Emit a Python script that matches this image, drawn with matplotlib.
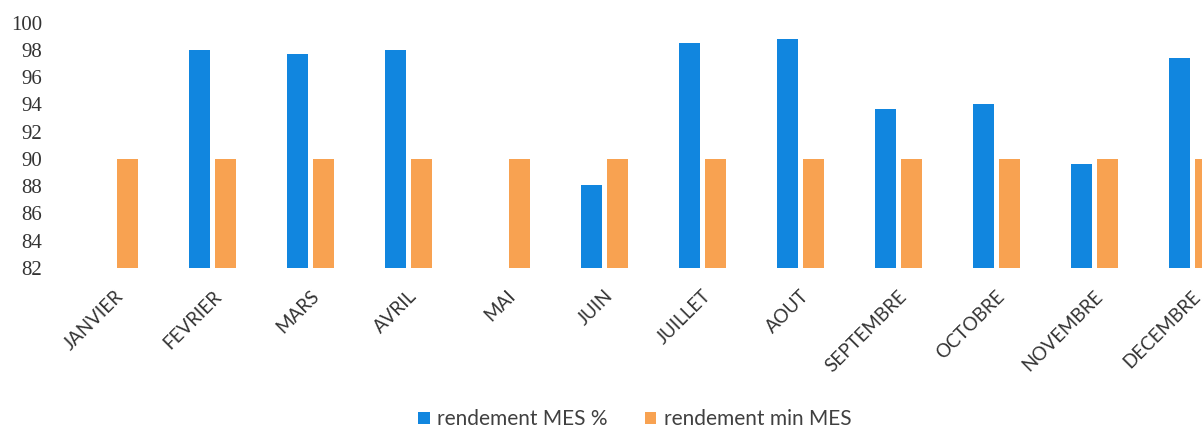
import matplotlib.pyplot as plt
import matplotlib.transforms as mtransforms
import numpy as np

months = ['JANVIER', 'FEVRIER', 'MARS', 'AVRIL', 'MAI', 'JUIN', 'JUILLET',
          'AOUT', 'SEPTEMBRE', 'OCTOBRE', 'NOVEMBRE', 'DECEMBRE']
rendement_mes = [np.nan, 98.0, 97.7, 98.0, np.nan, 88.1, 98.5,
                 98.8, 93.7, 94.0, 89.6, 97.4]
rendement_min = [90, 90, 90, 90, 90, 90, 90, 90, 90, 90, 90, 90]
y_ticks = [82, 84, 86, 88, 90, 92, 94, 96, 98, 100]

plt.rcParams['font.family'] = ['Lato', 'DejaVu Sans']

fig = plt.figure(figsize=(12.02, 4.30), dpi=100)
# plot area runs past the right edge, as in the cropped original
ax = fig.add_axes([0.0545, 0.377, 0.978, 0.570])

x = np.arange(len(months))
w = 0.215
off = 0.133
base = y_ticks[0]
mes = np.array(rendement_mes) - base
mn = np.array(rendement_min) - base
ax.bar(x - off, mes, w, bottom=base, color='#1186DF', label='rendement MES %')
ax.bar(x + off, mn, w, bottom=base, color='#F8A251', label='rendement min MES')

ax.set_xlim(-0.5, len(months) - 0.5)
ax.set_ylim(82, 100)
ax.set_yticks(y_ticks)
ax.set_yticklabels([str(v) for v in y_ticks], fontsize=15, color='#333333',
                   family=['Liberation Serif'])
ax.set_xticks(x)
ax.set_xticklabels(months, rotation=45, ha='right', va='top',
                   rotation_mode='anchor', fontsize=13.5, color='#333333')
shift = mtransforms.ScaledTranslation(-6 / 100, 0, fig.dpi_scale_trans)
for lbl in ax.get_xticklabels():
    lbl.set_transform(lbl.get_transform() + shift)
ax.tick_params(axis='both', length=0)
ax.tick_params(axis='y', pad=17)
ax.tick_params(axis='x', pad=14)
for s in ax.spines.values():
    s.set_visible(False)

fig.legend(loc='center', bbox_to_anchor=(0.528, 0.025), ncol=2, frameon=False,
           fontsize=15, handlelength=0.55, handleheight=0.55, handletextpad=0.35,
           columnspacing=1.8, labelcolor='#404040')

fig.savefig('out.png', dpi=100)
